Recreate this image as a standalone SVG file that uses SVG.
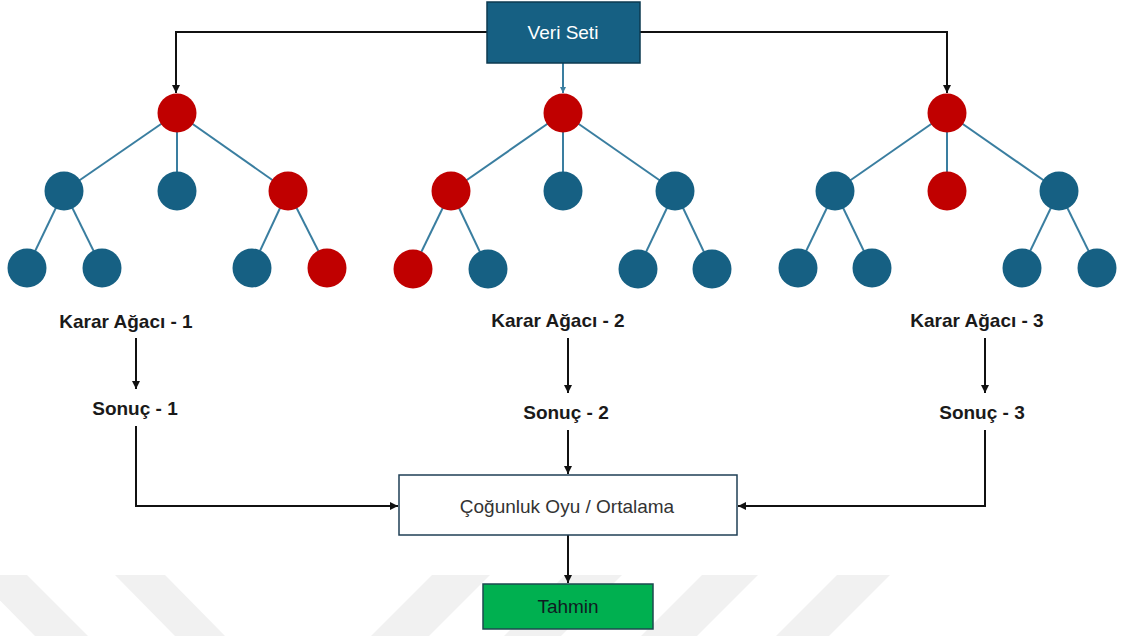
<svg xmlns="http://www.w3.org/2000/svg" width="1122" height="636" viewBox="0 0 1122 636">
  <style>
    .red { fill: #C00000; }
    .blue { fill: #166083; }
    .edge { stroke: #3a7ea0; stroke-width: 2; fill: none; }
    .conn { stroke: #111111; stroke-width: 2; fill: none; }
    .lbl { font-family: "Liberation Sans", Arial, sans-serif; font-weight: bold; font-size: 19px; fill: #1a1a1a; text-anchor: middle; }
    .txt { font-family: "Liberation Sans", Arial, sans-serif; text-anchor: middle; }
    .stripe { fill: #f1f1f1; }
  </style>
  <defs>
    <marker id="arrow" markerUnits="userSpaceOnUse" markerWidth="9" markerHeight="8" refX="8" refY="4" orient="auto">
      <path d="M0,0 L8,4 L0,8 z" fill="#111111"/>
    </marker>
    <marker id="arrowBlue" markerUnits="userSpaceOnUse" markerWidth="7" markerHeight="6" refX="6" refY="3" orient="auto">
      <path d="M0,0 L6,3 L0,6 z" fill="#3a7ea0"/>
    </marker>
  </defs>

  <rect width="1122" height="636" fill="#ffffff"/>

  <!-- faint background stripes along the bottom edge -->
  <g id="stripes">
    <polygon class="stripe" points="-25,575 27,575 88,636 35,636"/>
    <polygon class="stripe" points="115,575 165,575 225,636 175,636"/>
    <polygon class="stripe" points="432,575 490,575 429,636 371,636"/>
    <polygon class="stripe" points="565,575 622,575 561,636 504,636"/>
    <polygon class="stripe" points="702,575 758,575 697,636 641,636"/>
    <polygon class="stripe" points="837,575 890,575 829,636 776,636"/>
  </g>

  <!-- connectors -->
  <g id="connectors">
    <polyline class="conn" points="487,32 176,32 176,93" marker-end="url(#arrow)"/>
    <polyline class="conn" points="640,32 947,32 947,93" marker-end="url(#arrow)"/>
    <line class="edge" x1="563" y1="63" x2="563" y2="93" marker-end="url(#arrowBlue)"/>

    <line class="conn" x1="136" y1="338" x2="136" y2="389" marker-end="url(#arrow)"/>
    <line class="conn" x1="568" y1="338" x2="568" y2="393" marker-end="url(#arrow)"/>
    <line class="conn" x1="985" y1="338" x2="985" y2="393" marker-end="url(#arrow)"/>

    <polyline class="conn" points="136,426 136,506 398,506" marker-end="url(#arrow)"/>
    <line class="conn" x1="568" y1="430" x2="568" y2="474" marker-end="url(#arrow)"/>
    <polyline class="conn" points="985,430 985,506 738,506" marker-end="url(#arrow)"/>

    <line class="conn" x1="568" y1="535" x2="568" y2="583" marker-end="url(#arrow)"/>
  </g>

  <!-- dataset box -->
  <g id="veri-seti">
    <rect x="487" y="2" width="153" height="61" fill="#166083" stroke="#0c3a50" stroke-width="1.5"/>
    <text class="txt" x="563" y="39" font-size="19" fill="#ffffff">Veri Seti</text>
  </g>

  <!-- decision tree 1 -->
  <g id="tree-1">
    <g class="edges">
      <line class="edge" x1="177" y1="113" x2="64" y2="191"/>
      <line class="edge" x1="177" y1="113" x2="177" y2="191"/>
      <line class="edge" x1="177" y1="113" x2="288" y2="191"/>
      <line class="edge" x1="64" y1="191" x2="27" y2="268"/>
      <line class="edge" x1="64" y1="191" x2="102" y2="268"/>
      <line class="edge" x1="288" y1="191" x2="252" y2="268"/>
      <line class="edge" x1="288" y1="191" x2="327" y2="268"/>
    </g>
    <circle class="red" cx="177" cy="113" r="19.5"/>
    <circle class="blue" cx="64" cy="191" r="19.5"/>
    <circle class="blue" cx="177" cy="191" r="19.5"/>
    <circle class="red" cx="288" cy="191" r="19.5"/>
    <circle class="blue" cx="27" cy="268" r="19.5"/>
    <circle class="blue" cx="102" cy="268" r="19.5"/>
    <circle class="blue" cx="252" cy="268" r="19.5"/>
    <circle class="red" cx="327" cy="268" r="19.5"/>
  </g>

  <!-- decision tree 2 -->
  <g id="tree-2">
    <g class="edges">
      <line class="edge" x1="563" y1="113" x2="451" y2="191"/>
      <line class="edge" x1="563" y1="113" x2="563" y2="191"/>
      <line class="edge" x1="563" y1="113" x2="675" y2="191"/>
      <line class="edge" x1="451" y1="191" x2="413" y2="269"/>
      <line class="edge" x1="451" y1="191" x2="488" y2="269"/>
      <line class="edge" x1="675" y1="191" x2="638" y2="269"/>
      <line class="edge" x1="675" y1="191" x2="712" y2="269"/>
    </g>
    <circle class="red" cx="563" cy="113" r="19.5"/>
    <circle class="red" cx="451" cy="191" r="19.5"/>
    <circle class="blue" cx="563" cy="191" r="19.5"/>
    <circle class="blue" cx="675" cy="191" r="19.5"/>
    <circle class="red" cx="413" cy="269" r="19.5"/>
    <circle class="blue" cx="488" cy="269" r="19.5"/>
    <circle class="blue" cx="638" cy="269" r="19.5"/>
    <circle class="blue" cx="712" cy="269" r="19.5"/>
  </g>

  <!-- decision tree 3 -->
  <g id="tree-3">
    <g class="edges">
      <line class="edge" x1="947" y1="113" x2="835" y2="191"/>
      <line class="edge" x1="947" y1="113" x2="947" y2="191"/>
      <line class="edge" x1="947" y1="113" x2="1059" y2="191"/>
      <line class="edge" x1="835" y1="191" x2="798" y2="268"/>
      <line class="edge" x1="835" y1="191" x2="872" y2="268"/>
      <line class="edge" x1="1059" y1="191" x2="1022" y2="268"/>
      <line class="edge" x1="1059" y1="191" x2="1097" y2="268"/>
    </g>
    <circle class="red" cx="947" cy="113" r="19.5"/>
    <circle class="blue" cx="835" cy="191" r="19.5"/>
    <circle class="red" cx="947" cy="191" r="19.5"/>
    <circle class="blue" cx="1059" cy="191" r="19.5"/>
    <circle class="blue" cx="798" cy="268" r="19.5"/>
    <circle class="blue" cx="872" cy="268" r="19.5"/>
    <circle class="blue" cx="1022" cy="268" r="19.5"/>
    <circle class="blue" cx="1097" cy="268" r="19.5"/>
  </g>

  <!-- tree and result labels -->
  <g id="label-tree-1"><text class="lbl" x="126" y="328">Karar Ağacı - 1</text></g>
  <g id="label-tree-2"><text class="lbl" x="558" y="327">Karar Ağacı - 2</text></g>
  <g id="label-tree-3"><text class="lbl" x="977" y="327">Karar Ağacı - 3</text></g>
  <g id="sonuc-1"><text class="lbl" x="135" y="415">Sonuç - 1</text></g>
  <g id="sonuc-2"><text class="lbl" x="566" y="419">Sonuç - 2</text></g>
  <g id="sonuc-3"><text class="lbl" x="982" y="419">Sonuç - 3</text></g>

  <!-- aggregation box -->
  <g id="aggregation">
    <rect x="399" y="475" width="338" height="60" fill="#ffffff" stroke="#1f3f55" stroke-width="1.5"/>
    <text class="txt" x="567" y="513" font-size="19" fill="#333333">Çoğunluk Oyu / Ortalama</text>
  </g>

  <!-- prediction box -->
  <g id="tahmin">
    <rect x="483" y="584" width="170" height="45" fill="#00B050" stroke="#1d4a4f" stroke-width="1.5"/>
    <text class="txt" x="568" y="613" font-size="19" fill="#0f1c22">Tahmin</text>
  </g>
</svg>
